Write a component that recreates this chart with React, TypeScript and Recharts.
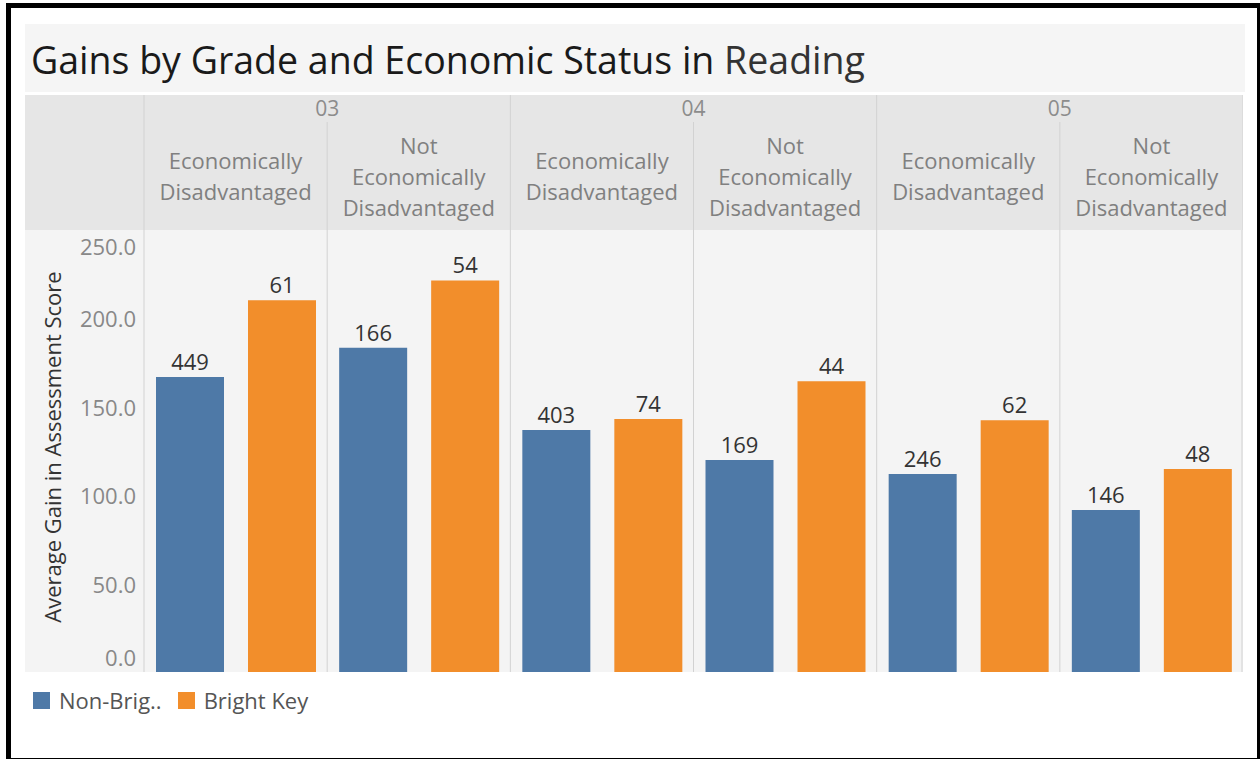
import { BarChart, Bar, XAxis, YAxis, CartesianGrid, LabelList } from 'recharts';

// one row per grade / economic status column
const grades = ['03', '03', '04', '04', '05', '05'];
const statusLines = [
  ['Economically', 'Disadvantaged'],
  ['Not', 'Economically', 'Disadvantaged'],
  ['Economically', 'Disadvantaged'],
  ['Not', 'Economically', 'Disadvantaged'],
  ['Economically', 'Disadvantaged'],
  ['Not', 'Economically', 'Disadvantaged'],
];
const nonBrightGain = [166.9, 183.4, 136.9, 119.9, 112.0, 91.6];
const brightGain = [210.2, 221.5, 143.1, 164.4, 142.4, 114.8];
const nonBrightCount = [449, 166, 403, 169, 246, 146];
const brightCount = [61, 54, 74, 44, 62, 48];
const yTicks = [0, 50, 100, 150, 200, 250];

const series = [
  { key: 'nonBright', countKey: 'nonBrightCount', name: 'Non-Brig..', color: '#4e79a7' },
  { key: 'bright', countKey: 'brightCount', name: 'Bright Key', color: '#f28e2b' },
];

const data = grades.map((g, i) => ({
  col: g + '|' + statusLines[i].join(' '),
  grade: g,
  lines: statusLines[i],
  nonBright: nonBrightGain[i],
  bright: brightGain[i],
  nonBrightCount: nonBrightCount[i],
  brightCount: brightCount[i],
}));

const FONT = '"Open Sans", "Noto Sans", sans-serif';
const CHART_W = 1218;
const CHART_H = 577;
const AXIS_W = 119;
const HEAD_H = 135;
const BAND = (CHART_W - AXIS_W) / data.length;
const DIVIDER = '#d2d2d2';

function HeaderTick(props: any) {
  const { x, index } = props;
  const row = data[index];
  if (!row) return null;
  const lh = 31;
  const mid = 80.5;
  const first = mid - ((row.lines.length - 1) * lh) / 2;
  const left = x - BAND / 2;
  const newGrade = index === 0 || data[index - 1].grade !== row.grade;
  const lastOfGrade = index === data.length - 1 || data[index + 1].grade !== row.grade;
  return (
    <g>
      <line x1={left} x2={left} y1={newGrade ? 0 : 27} y2={HEAD_H} stroke={DIVIDER} />
      {index === data.length - 1 && (
        <line x1={x + BAND / 2} x2={x + BAND / 2} y1={0} y2={HEAD_H} stroke={DIVIDER} />
      )}
      {lastOfGrade && index > 0 && data[index - 1].grade === row.grade && (
        <text x={left} y={13} textAnchor="middle" dominantBaseline="central"
          fontSize={21} fill="#8c8c8c" fontFamily={FONT}>{row.grade}</text>
      )}
      {row.lines.map((ln: string, k: number) => (
        <text key={k} x={x} y={first + k * lh} textAnchor="middle" dominantBaseline="central"
          fontSize={22} fill="#808080" fontFamily={FONT}>{ln}</text>
      ))}
    </g>
  );
}

function YTick(props: any) {
  const { y, payload } = props;
  let dy = 0;
  if (payload.value === 250) dy = 16;
  if (payload.value === 0) dy = -15;
  return (
    <text x={AXIS_W - 8} y={y + dy} textAnchor="end" dominantBaseline="central"
      fontSize={22} fill="#888" fontFamily={FONT}>{payload.value.toFixed(1)}</text>
  );
}

function YLabel(props: any) {
  const vb = props.viewBox || { x: 0, y: HEAD_H, height: CHART_H - HEAD_H };
  const cx = 27;
  const cy = vb.y + vb.height / 2 - 4;
  return (
    <text x={cx} y={cy} transform={`rotate(-90, ${cx}, ${cy})`} textAnchor="middle"
      dominantBaseline="central" fontSize={22} fill="#333" fontFamily={FONT}>
      Average Gain in Assessment Score
    </text>
  );
}

export default function App() {
  return (
    <div style={{ position: 'fixed', left: 0, top: 0, width: 1260, height: 759, background: '#fff', fontFamily: FONT }}>
      <div style={{ position: 'absolute', left: 6, top: 3, width: 1246, height: 750, borderTop: '5px solid #000', borderBottom: '4px solid #000', borderLeft: '5px solid #000', borderRight: '4px solid #000' }} />
      <div style={{ position: 'absolute', left: 25, top: 24, width: 1220, height: 68, background: '#f5f5f5' }} />
      <div style={{ position: 'absolute', left: 31, top: 35, fontSize: 37.5, color: '#1a1a1a', whiteSpace: 'nowrap', lineHeight: '50px' }}>
        Gains by Grade and Economic Status in <span style={{ color: '#333' }}>Reading</span>
      </div>
      <div style={{ position: 'absolute', left: 25, top: 95, width: CHART_W, height: HEAD_H, background: '#e6e6e6' }} />
      <div style={{ position: 'absolute', left: 25, top: 95 + HEAD_H, width: CHART_W, height: CHART_H - HEAD_H, background: '#f4f4f4' }} />
      <div style={{ position: 'absolute', left: 25, top: 95 }}>
        <BarChart width={CHART_W} height={CHART_H} data={data} barSize={68} barGap={24}
          margin={{ top: 0, right: 0, bottom: 0, left: 0 }}>
          <CartesianGrid horizontal={false} stroke={DIVIDER}
            verticalCoordinatesGenerator={({ offset }: any) =>
              data.map((_, i) => offset.left + i * BAND).concat([offset.left + offset.width - 1])} />
          <XAxis xAxisId="head" dataKey="col" orientation="top" height={HEAD_H} interval={0}
            tick={<HeaderTick />} tickLine={false} axisLine={false} />
          <XAxis xAxisId="base" dataKey="col" orientation="bottom" height={0} tick={false}
            tickLine={false} axisLine={{ stroke: '#c8c8c8' }} />
          <YAxis width={AXIS_W} domain={[0, 250]} ticks={yTicks} interval={0}
            tick={<YTick />} tickLine={false} axisLine={false} label={<YLabel />} />
          {series.map((s) => (
            <Bar key={s.key} xAxisId="base" dataKey={s.key} name={s.name} fill={s.color} isAnimationActive={false}>
              <LabelList dataKey={s.countKey} position="top" offset={7} fontSize={22} fill="#333" fontFamily={FONT} />
            </Bar>
          ))}
        </BarChart>
      </div>
      <div style={{ position: 'absolute', left: 33, top: 685, display: 'flex', alignItems: 'center', fontSize: 22, color: '#555' }}>
        {series.map((s) => (
          <div key={s.key} style={{ display: 'flex', alignItems: 'center', marginRight: 16 }}>
            <div style={{ width: 17, height: 17, background: s.color, marginRight: 9 }} />
            <span>{s.name}</span>
          </div>
        ))}
      </div>
    </div>
  );
}
